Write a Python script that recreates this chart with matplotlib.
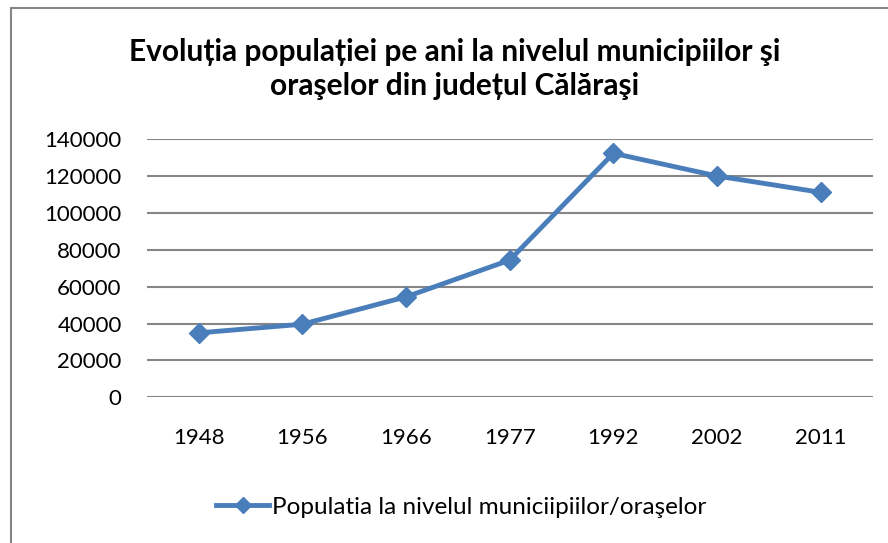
import matplotlib
matplotlib.use("Agg")
import matplotlib.pyplot as plt
from matplotlib.patches import Rectangle

years = ["1948", "1956", "1966", "1977", "1992", "2002", "2011"]
population = [34950, 39660, 54500, 74440, 132400, 120080, 111200]
yticks = [0, 20000, 40000, 60000, 80000, 100000, 120000, 140000]
title = "Evoluția populației pe ani la nivelul municipiilor şi\noraşelor din județul Călăraşi"
series_label = "Populatia la nivelul municiipiilor/oraşelor"

plt.rcParams['font.family'] = ['Lato', 'DejaVu Sans']

W, H = 888, 543
fig = plt.figure(figsize=(W / 100, H / 100), dpi=100)
ax = fig.add_axes([146.7 / W, 1 - 397.3 / H, (872.7 - 146.7) / W, (397.3 - 139.3) / H])

color = "#4A7EBB"
x = list(range(len(years)))
ax.plot(x, population, color=color, lw=3.5, marker="D", markersize=10.5,
        markeredgecolor=color, markerfacecolor=color, label=series_label, zorder=3)

ax.set_xlim(-0.5, len(years) - 0.5)
ax.set_ylim(0, 140000)
ax.set_yticks(yticks)
ax.set_yticklabels([str(v) for v in yticks], fontsize=16)
ax.set_xticks(x)
ax.set_xticklabels(years, fontsize=16)
ax.tick_params(length=0, pad=18, axis="y")
ax.tick_params(length=0, pad=22, axis="x")
ax.grid(axis="y", color="#868686", lw=1.5)
ax.set_axisbelow(True)
for s in ax.spines.values():
    s.set_visible(False)

fig.text(455 / W, 1 - 69 / H, title, ha="center", va="center", fontsize=21.5,
         fontweight="bold", linespacing=1.3)

leg = fig.legend(loc="center", bbox_to_anchor=(461 / W, 1 - 507 / H), frameon=False,
                 fontsize=17.5, handlelength=2.2, handletextpad=0.1, markerscale=0.75)

fig.patches.append(Rectangle((10.5 / W, -0.1), 1.2, 1 - 7.5 / H + 0.1, transform=fig.transFigure,
                             fill=False, edgecolor="#868686", lw=1.5))

fig.savefig("out.png", dpi=100)
